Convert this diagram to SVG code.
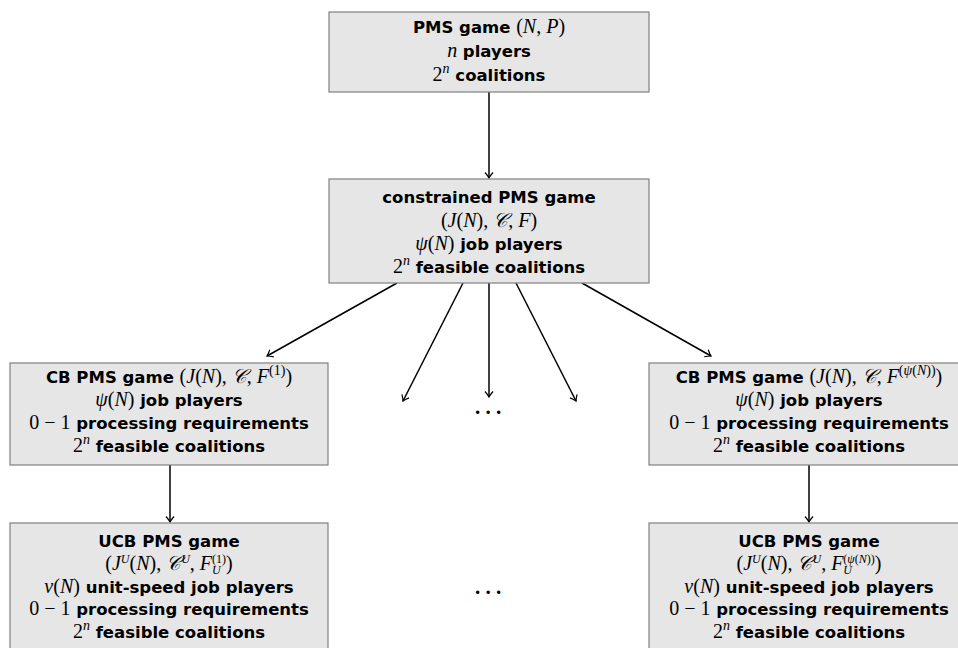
<svg xmlns="http://www.w3.org/2000/svg" width="958" height="648" viewBox="0 0 958 648">
<style>
.box{fill:#e6e6e6;stroke:#808080;stroke-width:1.2}
.edge{stroke:#000;stroke-width:1.5;fill:none;marker-end:url(#arr)}
text{text-anchor:middle;font-size:16px;fill:#000}
.w{font-family:"DejaVu Sans",sans-serif;font-weight:bold;font-size:16.5px}
.m{font-family:"Liberation Serif",serif;font-style:italic;font-size:20px}
.r{font-family:"Liberation Serif",serif;font-size:20px}
.s{font-size:14px}
.t{font-size:12px}
.dots{font-family:"Liberation Serif",serif;font-size:21px;font-weight:bold}
</style>
<defs>
<marker id="arr" markerUnits="userSpaceOnUse" markerWidth="12" markerHeight="12" viewBox="-7 -6 8 12" refX="0" refY="0" orient="auto">
<path d="M -5.5,-4 Q -2,-1 0,0 Q -2,1 -5.5,4" stroke="#000" stroke-width="1.2" fill="none"/>
</marker>
</defs>
<g id="edges">
<line class="edge" x1="489" y1="92" x2="489" y2="178"/>
<line class="edge" x1="397" y1="283" x2="267" y2="356"/>
<line class="edge" x1="463" y1="283" x2="403" y2="401"/>
<line class="edge" x1="489" y1="283" x2="489" y2="397"/>
<line class="edge" x1="516" y1="283" x2="576" y2="401"/>
<line class="edge" x1="582" y1="283" x2="711" y2="356"/>
<line class="edge" x1="170" y1="465" x2="170" y2="522"/>
<line class="edge" x1="809" y1="465" x2="809" y2="522"/>
</g>
<g id="pms">
<rect class="box" x="329" y="12" width="320" height="80"/>
<text x="489" y="33"><tspan class="w">PMS game </tspan><tspan class="r">(</tspan><tspan class="m">N</tspan><tspan class="r">, </tspan><tspan class="m">P</tspan><tspan class="r">)</tspan></text>
<text x="489" y="57"><tspan class="m">n</tspan><tspan class="w"> players</tspan></text>
<text x="489" y="81"><tspan class="r">2</tspan><tspan class="m s" dy="-8">n</tspan><tspan class="w" dy="8"> coalitions</tspan></text>
</g>
<g id="cpms">
<rect class="box" x="329" y="179" width="320" height="104"/>
<text x="489" y="203"><tspan class="w">constrained PMS game</tspan></text>
<text x="489" y="227"><tspan class="r">(</tspan><tspan class="m">J</tspan><tspan class="r">(</tspan><tspan class="m">N</tspan><tspan class="r">), </tspan><tspan class="m">𝒞</tspan><tspan class="r">, </tspan><tspan class="m">F</tspan><tspan class="r">)</tspan></text>
<text x="489" y="250"><tspan class="m">ψ</tspan><tspan class="r">(</tspan><tspan class="m">N</tspan><tspan class="r">)</tspan><tspan class="w"> job players</tspan></text>
<text x="489" y="273"><tspan class="r">2</tspan><tspan class="m s" dy="-8">n</tspan><tspan class="w" dy="8"> feasible coalitions</tspan></text>
</g>
<g id="cb1">
<rect class="box" x="10" y="363" width="318" height="102"/>
<text x="169" y="383"><tspan class="w">CB PMS game </tspan><tspan class="r">(</tspan><tspan class="m">J</tspan><tspan class="r">(</tspan><tspan class="m">N</tspan><tspan class="r">), </tspan><tspan class="m">𝒞</tspan><tspan class="r">, </tspan><tspan class="m">F</tspan><tspan class="r s" dy="-8">(1)</tspan><tspan class="r" dy="8">)</tspan></text>
<text x="169" y="406"><tspan class="m">ψ</tspan><tspan class="r">(</tspan><tspan class="m">N</tspan><tspan class="r">)</tspan><tspan class="w"> job players</tspan></text>
<text x="169" y="429"><tspan class="r">0 − 1</tspan><tspan class="w"> processing requirements</tspan></text>
<text x="169" y="452"><tspan class="r">2</tspan><tspan class="m s" dy="-8">n</tspan><tspan class="w" dy="8"> feasible coalitions</tspan></text>
</g>
<g id="cbk">
<rect class="box" x="649" y="363" width="320" height="102"/>
<text x="809" y="383"><tspan class="w">CB PMS game </tspan><tspan class="r">(</tspan><tspan class="m">J</tspan><tspan class="r">(</tspan><tspan class="m">N</tspan><tspan class="r">), </tspan><tspan class="m">𝒞</tspan><tspan class="r">, </tspan><tspan class="m">F</tspan><tspan class="r s" dy="-8">(</tspan><tspan class="m s">ψ</tspan><tspan class="r s">(</tspan><tspan class="m s">N</tspan><tspan class="r s">))</tspan><tspan class="r" dy="8">)</tspan></text>
<text x="809" y="406"><tspan class="m">ψ</tspan><tspan class="r">(</tspan><tspan class="m">N</tspan><tspan class="r">)</tspan><tspan class="w"> job players</tspan></text>
<text x="809" y="429"><tspan class="r">0 − 1</tspan><tspan class="w"> processing requirements</tspan></text>
<text x="809" y="452"><tspan class="r">2</tspan><tspan class="m s" dy="-8">n</tspan><tspan class="w" dy="8"> feasible coalitions</tspan></text>
</g>
<g id="ucb1">
<rect class="box" x="10" y="523" width="318" height="140"/>
<text x="169" y="547"><tspan class="w">UCB PMS game</tspan></text>
<text x="169" y="570"><tspan class="r">(</tspan><tspan class="m">J</tspan><tspan class="m t" dy="-7">U</tspan><tspan class="r" dy="7">(</tspan><tspan class="m">N</tspan><tspan class="r">), </tspan><tspan class="m">𝒞</tspan><tspan class="m t" dy="-7">U</tspan><tspan class="r" dy="7">, </tspan><tspan class="m">F</tspan><tspan class="m t" dy="4">U</tspan><tspan class="r t" dx="-8.7" dy="-11">(1)</tspan><tspan class="r" dy="7">)</tspan></text>
<text x="169" y="593"><tspan class="m">v</tspan><tspan class="r">(</tspan><tspan class="m">N</tspan><tspan class="r">)</tspan><tspan class="w"> unit-speed job players</tspan></text>
<text x="169" y="615"><tspan class="r">0 − 1</tspan><tspan class="w"> processing requirements</tspan></text>
<text x="169" y="638"><tspan class="r">2</tspan><tspan class="m s" dy="-8">n</tspan><tspan class="w" dy="8"> feasible coalitions</tspan></text>
</g>
<g id="ucbk">
<rect class="box" x="649" y="523" width="320" height="140"/>
<text x="809" y="547"><tspan class="w">UCB PMS game</tspan></text>
<text x="809" y="570"><tspan class="r">(</tspan><tspan class="m">J</tspan><tspan class="m t" dy="-7">U</tspan><tspan class="r" dy="7">(</tspan><tspan class="m">N</tspan><tspan class="r">), </tspan><tspan class="m">𝒞</tspan><tspan class="m t" dy="-7">U</tspan><tspan class="r" dy="7">, </tspan><tspan class="m">F</tspan><tspan class="m t" dy="4">U</tspan><tspan class="r t" dx="-8.7" dy="-11">(</tspan><tspan class="m t">ψ</tspan><tspan class="r t">(</tspan><tspan class="m t">N</tspan><tspan class="r t">))</tspan><tspan class="r" dy="7">)</tspan></text>
<text x="809" y="593"><tspan class="m">v</tspan><tspan class="r">(</tspan><tspan class="m">N</tspan><tspan class="r">)</tspan><tspan class="w"> unit-speed job players</tspan></text>
<text x="809" y="615"><tspan class="r">0 − 1</tspan><tspan class="w"> processing requirements</tspan></text>
<text x="809" y="638"><tspan class="r">2</tspan><tspan class="m s" dy="-8">n</tspan><tspan class="w" dy="8"> feasible coalitions</tspan></text>
</g>
<g id="dots">
<text class="dots" x="488" y="414">. . .</text>
<text class="dots" x="488" y="594">. . .</text>
</g>
</svg>
